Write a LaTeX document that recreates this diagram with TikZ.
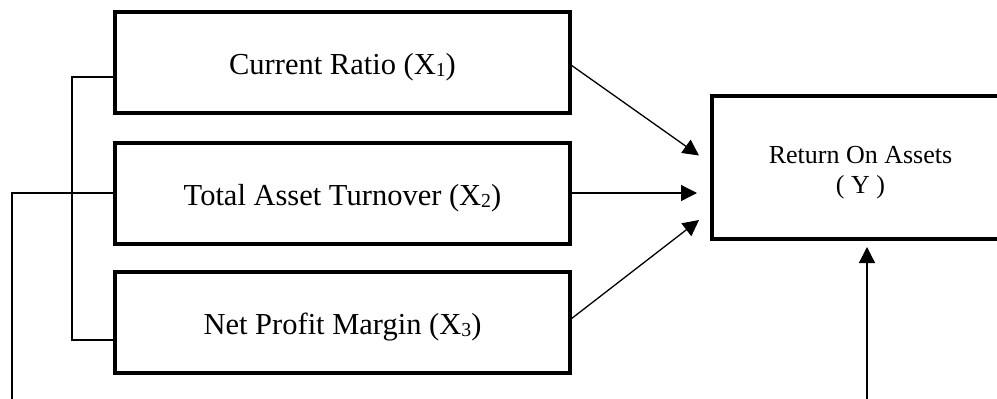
\documentclass[tikz,border=0pt]{standalone}
\usepackage{fontspec}
\setmainfont{Liberation Serif}
\usetikzlibrary{arrows.meta}
\newcommand{\mysub}[1]{\raisebox{-0.07em}{\scalebox{0.65}{#1}}}
\begin{document}
\begin{tikzpicture}[x=1pt,y=-1pt,
  varbox/.style={draw=black,line width=4pt,rectangle,inner sep=0pt,
    minimum width=455pt,minimum height=101pt,
    font=\fontsize{30.5}{35}\selectfont,text height=25pt,text depth=1pt},
  ybox/.style={draw=black,line width=4pt,rectangle,inner sep=0pt,
    minimum width=298pt,minimum height=143pt},
  ylab/.style={font=\fontsize{26}{30}\selectfont,anchor=base,inner sep=0pt},
  conn/.style={line width=1.3pt,black},
  arr/.style={conn,-{Triangle[length=16pt,width=16pt]}}]
\useasboundingbox (0,0) rectangle (997,399);
\clip (0,0) rectangle (997,399);
\node[varbox] (b1) at (342.5,62.5) {Current Ratio (X\mysub{1})};
\node[varbox] (b2) at (342.5,193) {Total Asset Turnover (X\mysub{2})};
\node[varbox] (b3) at (342.5,322.5) {Net Profit Margin (X\mysub{3})};
\node[ybox] (y) at (861,167.5) {};
\node[ylab] (yl1) at (860.5,163) {Return On Assets};
\node[ylab] (yl2) at (860.5,193) {( Y )};
% bracket
\coordinate (t1) at (72,77);
\coordinate (t3) at (72,340);
\coordinate (m) at (12,193);
\coordinate (mb) at (12,399);
\coordinate (yb) at (867,399);
\coordinate (yt) at (867,247);
\draw[conn] (b1.west |- t1) -- (t1) -- (t3) -- (b3.west |- t3);
\draw[conn] (b2.west) -- (m) -- (mb);
% arrows
\coordinate (a1s) at (571,65);
\coordinate (a1e) at (699,155.5);
\coordinate (a2e) at (697,193);
\coordinate (a3s) at (571,319);
\coordinate (a3e) at (699,220);
\draw[arr] (a1s) -- (a1e);
\draw[arr] (b2.east) -- (a2e);
\draw[arr] (a3s) -- (a3e);
\draw[arr] (yb) -- (yt);
\end{tikzpicture}
\end{document}
